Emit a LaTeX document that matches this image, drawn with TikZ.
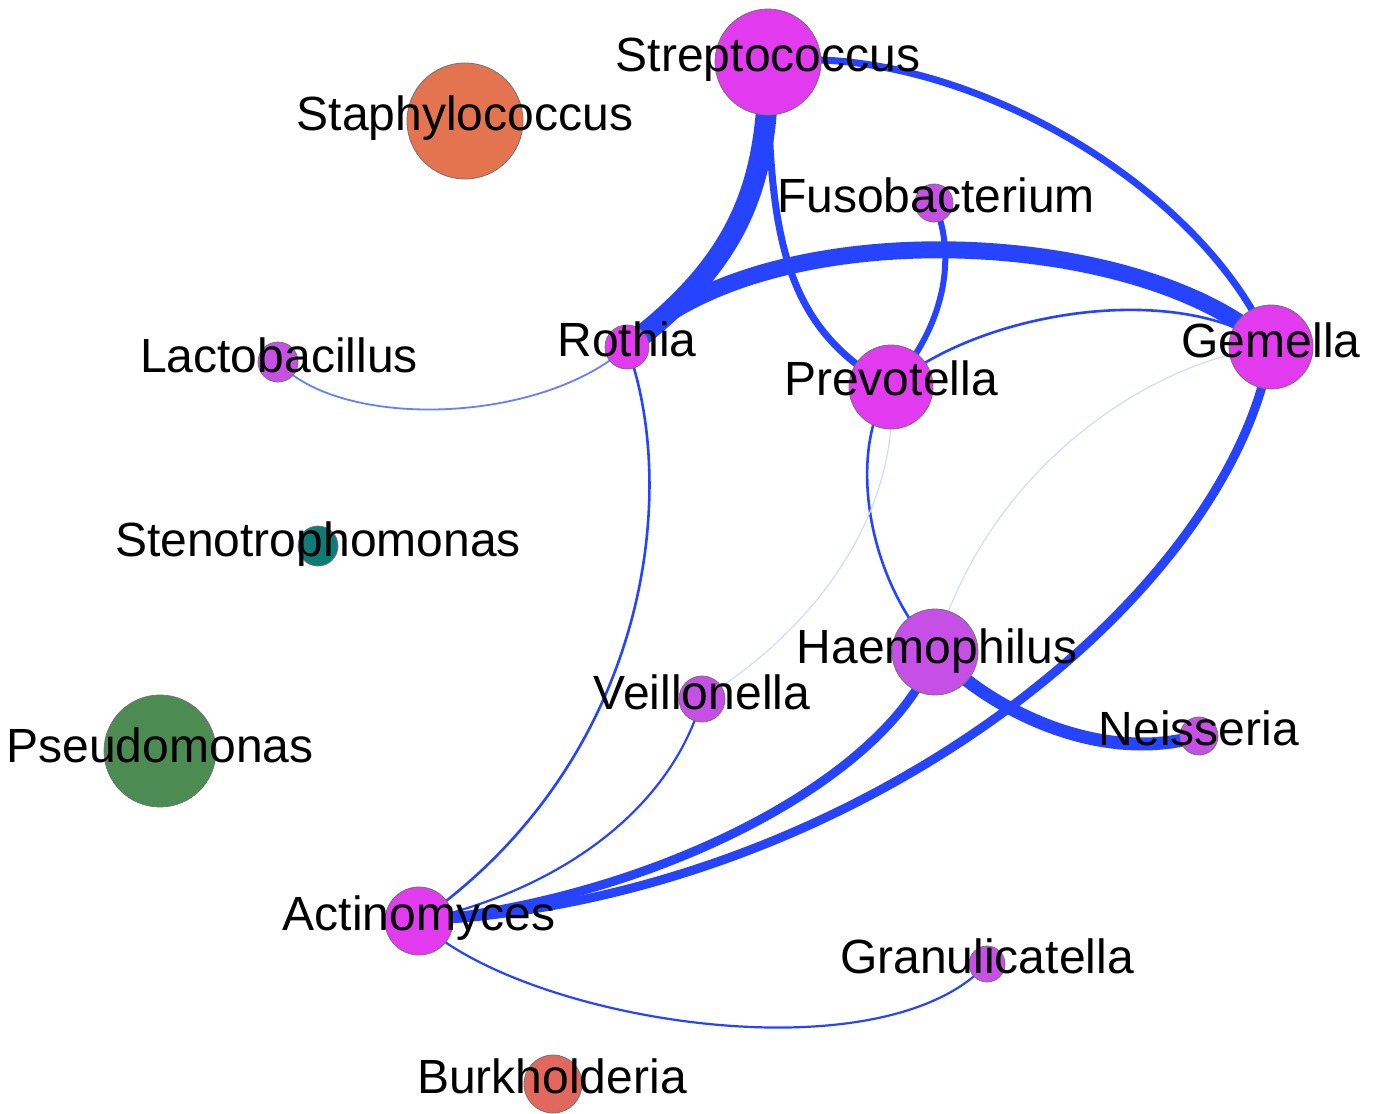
\documentclass[tikz,border=0pt]{standalone}
\usepackage{fontspec}
\setmainfont{Liberation Sans}
\definecolor{mag}{RGB}{226,58,238}
\definecolor{lpur}{RGB}{198,80,230}
\definecolor{staph}{RGB}{228,115,80}
\definecolor{burk}{RGB}{226,104,94}
\definecolor{pseu}{RGB}{76,140,82}
\definecolor{steno}{RGB}{14,124,118}
\definecolor{eblue}{RGB}{38,68,255}
\definecolor{elight}{RGB}{100,128,255}
\definecolor{efaint}{RGB}{210,218,255}
\begin{document}
\begin{tikzpicture}[x=0.5pt,y=-0.5pt,
  vtx/.style={circle, draw=black!55, line width=0.4pt, inner sep=0pt},
  lbl/.style={anchor=base, font=\fontsize{24}{28}\selectfont, text=black, inner sep=0pt},
  edg/.style={draw=eblue},
  faintedge/.style={draw=efaint, line width=0.6pt}]
\useasboundingbox (0,0) rectangle (1374,1113);
\fill[white] (0,0) rectangle (1374,1113);
% centres
\coordinate (strep) at (768,62);
\coordinate (staph) at (465,121);
\coordinate (fuso) at (934,203);
\coordinate (roth) at (627,347);
\coordinate (prev) at (891,387);
\coordinate (gem) at (1271,347);
\coordinate (lact) at (278,362);
\coordinate (steno) at (318,546);
\coordinate (haem) at (935,652);
\coordinate (veil) at (702,699);
\coordinate (neis) at (1199,736);
\coordinate (pseu) at (160,751);
\coordinate (acti) at (419,921);
\coordinate (gran) at (987,964);
\coordinate (burk) at (553,1084);
% edges
\draw[edg, line width=10.5pt] (strep) .. controls (769,190) and (735,265) .. (roth);
\draw[edg, line width=3.5pt] (strep) .. controls (768,250) and (790,330) .. (prev);
\draw[edg, line width=3.5pt] (strep) .. controls (950,40) and (1200,180) .. (gem);
\draw[edg, line width=8.5pt] (roth) .. controls (760,210) and (1140,225) .. (gem);
\draw[edg, line width=3pt] (fuso) .. controls (955,250) and (950,320) .. (prev);
\draw[edg, line width=1.3pt] (prev) .. controls (980,310) and (1180,280) .. (gem);
\draw[edg, line width=1.3pt] (prev) .. controls (850,440) and (860,570) .. (haem);
\draw[faintedge] (prev) .. controls (900,500) and (830,620) .. (veil);
\draw[faintedge] (gem) .. controls (1150,360) and (985,470) .. (haem);
\draw[edg, line width=4.5pt] (gem) .. controls (1230,600) and (850,900) .. (acti);
\draw[edg, line width=4.5pt] (haem) .. controls (890,780) and (650,900) .. (acti);
\draw[edg, line width=6.5pt] (haem) .. controls (990,710) and (1100,765) .. (neis);
\draw[edg, line width=1.3pt] (roth) .. controls (680,490) and (650,760) .. (acti);
\draw[draw=elight, line width=0.9pt] (lact) .. controls (340,430) and (540,425) .. (roth);
\draw[edg, line width=1.1pt] (veil) .. controls (670,810) and (560,890) .. (acti);
\draw[edg, line width=1.1pt] (acti) .. controls (520,1020) and (880,1080) .. (gran);
% vertices
\node[vtx, fill=mag, minimum size=53pt] (n-strep) at (strep) {};
\node[vtx, fill=staph, minimum size=58pt] (n-staph) at (staph) {};
\node[vtx, fill=lpur, minimum size=19pt] (n-fuso) at (fuso) {};
\node[vtx, fill=mag, minimum size=22pt] (n-roth) at (roth) {};
\node[vtx, fill=mag, minimum size=42pt] (n-prev) at (prev) {};
\node[vtx, fill=mag, minimum size=42pt] (n-gem) at (gem) {};
\node[vtx, fill=lpur, minimum size=20pt] (n-lact) at (lact) {};
\node[vtx, fill=steno, minimum size=20pt] (n-steno) at (steno) {};
\node[vtx, fill=lpur, minimum size=43pt] (n-haem) at (haem) {};
\node[vtx, fill=lpur, minimum size=23pt] (n-veil) at (veil) {};
\node[vtx, fill=lpur, minimum size=19pt] (n-neis) at (neis) {};
\node[vtx, fill=pseu, minimum size=56pt] (n-pseu) at (pseu) {};
\node[vtx, fill=mag, minimum size=34pt] (n-acti) at (acti) {};
\node[vtx, fill=lpur, minimum size=18pt] (n-gran) at (gran) {};
\node[vtx, fill=burk, minimum size=29pt] (n-burk) at (burk) {};
% labels
\node[lbl] (l-strep) at (768,72) {Streptococcus};
\node[lbl] (l-staph) at (465,130) {Staphylococcus};
\node[lbl] (l-fuso) at (936,212) {Fusobacterium};
\node[lbl] (l-roth) at (627,356) {Rothia};
\node[lbl] (l-prev) at (891,395) {Prevotella};
\node[lbl] (l-gem) at (1271,357) {Gemella};
\node[lbl] (l-lact) at (279,372) {Lactobacillus};
\node[lbl] (l-steno) at (318,556) {Stenotrophomonas};
\node[lbl] (l-haem) at (937,663) {Haemophilus};
\node[lbl] (l-veil) at (702,709) {Veillonella};
\node[lbl] (l-neis) at (1199,745) {Neisseria};
\node[lbl] (l-pseu) at (160,762) {Pseudomonas};
\node[lbl] (l-acti) at (419,930) {Actinomyces};
\node[lbl] (l-gran) at (987,973) {Granulicatella};
\node[lbl] (l-burk) at (552,1093) {Burkholderia};
\end{tikzpicture}
\end{document}
